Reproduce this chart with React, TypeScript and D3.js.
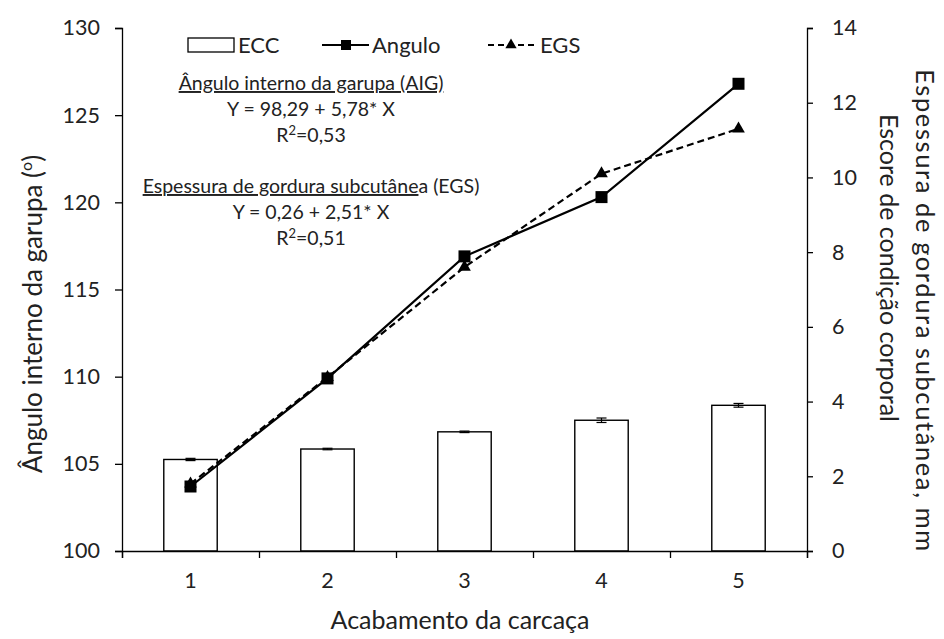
import * as d3 from 'd3';
import { useEffect, useRef } from 'react';

// ── Data ──────────────────────────────────────────────────────────────────────
const categories = ['1', '2', '3', '4', '5'];
const eccValues = [2.45, 2.73, 3.19, 3.5, 3.9];
const eccErrors = [0.03, 0.02, 0.02, 0.06, 0.05];
const anguloValues = [103.7, 109.9, 116.9, 120.3, 126.8];
const egsValues = [1.8, 4.65, 7.6, 10.1, 11.3];
const leftTicks = [100, 105, 110, 115, 120, 125, 130];
const rightTicks = [0, 2, 4, 6, 8, 10, 12, 14];

const FONT = 'Lato, "Open Sans", sans-serif';
const INK = '#222';

const Chart = () => {
  const svgRef = useRef<SVGSVGElement | null>(null);

  useEffect(() => {
    if (!svgRef.current) return;
    const W = 944;
    const H = 639;
    const margin = { top: 28, right: 137, bottom: 88, left: 122 };
    const x0 = margin.left;
    const x1 = W - margin.right;
    const y0 = H - margin.bottom;
    const y1 = margin.top;

    const svg = d3.select(svgRef.current);
    svg.selectAll('*').remove();
    svg.attr('width', W).attr('height', H);

    // ── Scales ────────────────────────────────────────────────────────────────
    const xBand = d3.scaleBand<string>().domain(categories).range([x0, x1]).padding(0);
    const xEdge = d3.scaleLinear().domain([0, categories.length]).range([x0, x1]);
    const yLeft = d3.scaleLinear().domain([100, 130]).range([y0, y1]);
    const yRight = d3.scaleLinear().domain([0, 14]).range([y0, y1]);

    const styleAxis = (ax: d3.Selection<SVGGElement, unknown, null, undefined>) => {
      ax.selectAll('path, line').attr('stroke', '#000').attr('stroke-width', 1.3);
      ax.selectAll('text').attr('font-family', FONT).attr('font-size', 21.5).attr('fill', INK);
    };

    // ── Bars (ECC, right axis) ───────────────────────────────────────────────
    const barW = xBand.bandwidth() * 0.39;
    const bars = svg.append('g');
    bars
      .selectAll('rect')
      .data(eccValues)
      .join('rect')
      .attr('x', (_, i) => xBand(categories[i])! + xBand.bandwidth() / 2 - barW / 2)
      .attr('y', d => yRight(d))
      .attr('width', barW)
      .attr('height', d => y0 - yRight(d))
      .attr('fill', '#fff')
      .attr('stroke', '#000')
      .attr('stroke-width', 1.4);

    // error bars
    const err = svg.append('g').attr('stroke', '#000').attr('stroke-width', 1.2);
    eccValues.forEach((v, i) => {
      const cx = xBand(categories[i])! + xBand.bandwidth() / 2;
      const lo = yRight(v - eccErrors[i]);
      const hi = yRight(v + eccErrors[i]);
      err.append('line').attr('x1', cx).attr('x2', cx).attr('y1', lo).attr('y2', hi);
      err.append('line').attr('x1', cx - 5).attr('x2', cx + 5).attr('y1', lo).attr('y2', lo);
      err.append('line').attr('x1', cx - 5).attr('x2', cx + 5).attr('y1', hi).attr('y2', hi);
    });

    // ── Axes ──────────────────────────────────────────────────────────────────
    svg
      .append('g')
      .attr('transform', `translate(${x0},0)`)
      .call(d3.axisLeft(yLeft).tickValues(leftTicks).tickSize(7).tickPadding(15))
      .call(styleAxis);

    svg
      .append('g')
      .attr('transform', `translate(${x1},0)`)
      .call(d3.axisRight(yRight).tickValues(rightTicks).tickSize(6).tickPadding(19))
      .call(styleAxis);

    svg
      .append('g')
      .attr('transform', `translate(0,${y0})`)
      .call(
        d3
          .axisBottom(xEdge)
          .tickValues(d3.range(categories.length + 1))
          .tickSize(7)
          .tickFormat(() => '')
      )
      .call(styleAxis);

    svg
      .append('g')
      .attr('transform', `translate(0,${y0})`)
      .call(d3.axisBottom(xBand).tickSize(0).tickPadding(22))
      .call(ax => ax.select('.domain').remove())
      .call(styleAxis);

    // ── Lines ────────────────────────────────────────────────────────────────
    const cx = (i: number) => xBand(categories[i])! + xBand.bandwidth() / 2;

    const angLine = d3
      .line<number>()
      .x((_, i) => cx(i))
      .y(d => yLeft(d));
    const egsLine = d3
      .line<number>()
      .x((_, i) => cx(i))
      .y(d => yRight(d));

    svg
      .append('path')
      .datum(egsValues)
      .attr('d', egsLine)
      .attr('fill', 'none')
      .attr('stroke', '#000')
      .attr('stroke-width', 2.2)
      .attr('stroke-dasharray', '7 4');

    svg
      .append('path')
      .datum(anguloValues)
      .attr('d', angLine)
      .attr('fill', 'none')
      .attr('stroke', '#000')
      .attr('stroke-width', 2.2);

    const tri = d3.symbol().type(d3.symbolTriangle).size(70);
    svg
      .append('g')
      .selectAll('path')
      .data(egsValues)
      .join('path')
      .attr('d', tri)
      .attr('transform', (d, i) => `translate(${cx(i)},${yRight(d)})`)
      .attr('fill', '#000');

    svg
      .append('g')
      .selectAll('rect')
      .data(anguloValues)
      .join('rect')
      .attr('x', (_, i) => cx(i) - 6)
      .attr('y', d => yLeft(d) - 6)
      .attr('width', 12)
      .attr('height', 12)
      .attr('fill', '#000');

    // ── Legend ───────────────────────────────────────────────────────────────
    const lg = svg.append('g').attr('font-family', FONT).attr('font-size', 22).attr('fill', INK);
    const ly = 45;
    lg.append('rect').attr('x', 188).attr('y', ly - 7).attr('width', 46).attr('height', 14).attr('fill', '#fff').attr('stroke', '#000').attr('stroke-width', 1.3);
    lg.append('text').attr('x', 238).attr('y', ly + 8).text('ECC');
    lg.append('line').attr('x1', 322).attr('x2', 369).attr('y1', ly).attr('y2', ly).attr('stroke', '#000').attr('stroke-width', 2.2);
    lg.append('rect').attr('x', 341).attr('y', ly - 5).attr('width', 10).attr('height', 10).attr('fill', '#000');
    lg.append('text').attr('x', 372).attr('y', ly + 8).text('Angulo');
    lg.append('line').attr('x1', 488).attr('x2', 538).attr('y1', ly).attr('y2', ly).attr('stroke', '#000').attr('stroke-width', 2.2).attr('stroke-dasharray', '6 4');
    lg.append('path').attr('d', d3.symbol().type(d3.symbolTriangle).size(55)).attr('transform', `translate(511,${ly})`).attr('fill', '#000');
    lg.append('text').attr('x', 540).attr('y', ly + 8).text('EGS');

    // ── Annotations ──────────────────────────────────────────────────────────
    const an = svg.append('g').attr('font-family', FONT).attr('font-size', 19.5).attr('fill', INK).attr('text-anchor', 'middle');
    const acx = 311;
    an.append('text').attr('x', acx).attr('y', 90).attr('text-decoration', 'underline').text('Ângulo interno da garupa (AIG)');
    an.append('text').attr('x', acx).attr('y', 116).text('Y = 98,29 + 5,78* X');
    const r1 = an.append('text').attr('x', acx).attr('y', 142);
    r1.append('tspan').text('R');
    r1.append('tspan').attr('font-size', 13).attr('dy', -7).text('2');
    r1.append('tspan').attr('dy', 7).text('=0,53');

    const e1 = an.append('text').attr('x', acx).attr('y', 193);
    e1.append('tspan').attr('text-decoration', 'underline').text('Espessura de gordura subcutâne');
    e1.append('tspan').text('a (EGS)');
    an.append('text').attr('x', acx).attr('y', 219).text('Y = 0,26 + 2,51* X');
    const r2 = an.append('text').attr('x', acx).attr('y', 245);
    r2.append('tspan').text('R');
    r2.append('tspan').attr('font-size', 13).attr('dy', -7).text('2');
    r2.append('tspan').attr('dy', 7).text('=0,51');

    // ── Axis titles ──────────────────────────────────────────────────────────
    const tt = svg.append('g').attr('font-family', FONT).attr('font-size', 25).attr('fill', INK).attr('text-anchor', 'middle');
    tt.append('text').attr('x', 460).attr('y', 629).text('Acabamento da carcaça');

    const lt = tt.append('text').attr('font-size', 26).attr('transform', `translate(42,314) rotate(-90)`);
    lt.append('tspan').text('Ângulo interno da garupa (');
    lt.append('tspan').attr('font-size', 16).attr('dy', -10).text('o');
    lt.append('tspan').attr('dy', 10).text(')');

    tt.append('text').attr('transform', `translate(880,268) rotate(90)`).text('Escore de condição corporal');
    tt.append('text')
      .attr('transform', `translate(916,311) rotate(90)`)
      .attr('font-size', 25.5)
      .attr('letter-spacing', 1.6)
      .text('Espessura de gordura subcutânea, mm');
  }, []);

  return <svg ref={svgRef} style={{ position: 'absolute', left: 0, top: 0, background: '#fff' }} />;
};

export default function App() {
  return <Chart />;
}
